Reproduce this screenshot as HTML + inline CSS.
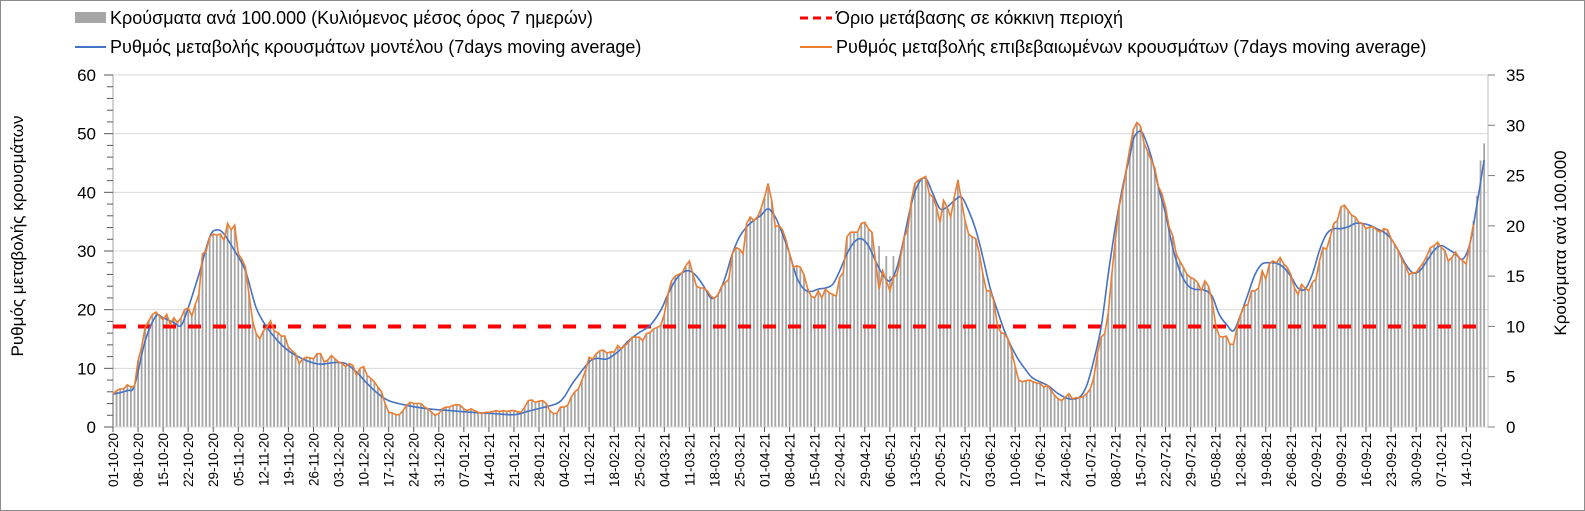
<!DOCTYPE html>
<html><head><meta charset="utf-8">
<style>
html,body{margin:0;padding:0;background:#fff;}
#wrap{position:relative;width:1585px;height:511px;overflow:hidden;}
svg text{font-family:"Liberation Sans",Arial,sans-serif;fill:#000;}
</style></head>
<body>
<div id="wrap">
<svg id="chart" width="1585" height="511" xmlns="http://www.w3.org/2000/svg">
<rect x="0.5" y="0.5" width="1584" height="510" fill="#fff" stroke="#8c8c8c"/>
<g id="grid"></g>
<g id="bars"></g>
<g id="axes"></g>
<line id="thresh" stroke="#ff0000" stroke-width="4" stroke-dasharray="13,12"/>
<path id="blue" fill="none" stroke="#4472c4" stroke-width="1.6"/>
<path id="orange" fill="none" stroke="#ed7d31" stroke-width="1.6"/>
<g>
 <g>
  <rect x="75" y="12" width="31" height="11" fill="#a6a6a6"/>
  <text x="110" y="24" font-size="18">Κρούσματα ανά 100.000 (Κυλιόμενος μέσος όρος 7 ημερών)</text>
 </g>
 <g>
  <line x1="800" y1="18" x2="832" y2="18" stroke="#ff0000" stroke-width="3" stroke-dasharray="8,5"/>
  <text x="836" y="24" font-size="18">Όριο μετάβασης σε κόκκινη περιοχή</text>
 </g>
 <g>
  <line x1="75" y1="47" x2="106" y2="47" stroke="#4472c4" stroke-width="2"/>
  <text x="110" y="53" font-size="18">Ρυθμός μεταβολής κρουσμάτων μοντέλου (7days moving average)</text>
 </g>
 <g>
  <line x1="800" y1="47" x2="832" y2="47" stroke="#ed7d31" stroke-width="2"/>
  <text x="836" y="53" font-size="18">Ρυθμός μεταβολής επιβεβαιωμένων κρουσμάτων (7days moving average)</text>
 </g>
</g>
<text font-size="17" text-anchor="middle" transform="translate(23,236) rotate(-90)">Ρυθμός μεταβολής κρουσμάτων</text>
<text font-size="17" text-anchor="middle" transform="translate(1566,243) rotate(-90)">Κρούσματα ανά 100.000</text>
</svg>
</div>
<script>
// ---- data ----
const startDate = [2020, 9, 1]; // 01-10-2020 (month 0-based)
const leftTicks = [0,10,20,30,40,50,60];
const rightTicks = [0,5,10,15,20,25,30,35];
const thresholdLeft = [17.14];
// bars: cases per 100k (right axis), daily from 01-10-20
const barVals = [
3.3,3.6,3.8,3.8,4.2,4.0,4.1, 6.6,7.9,9.9,10.6,11.2,11.4,11.0, 10.7,11.2,10.2,10.8,10.4,10.8,11.7,
11.8,11.0,12.2,13.2,17.2,17.5,18.9, 19.2,19.1,19.2,18.5,20.2,19.6,20.1, 17.2,16.7,15.9,13.2,10.6,9.3,8.8,
9.6,9.9,10.6,9.6,9.4,9.0,9.0, 7.9,7.6,7.3,6.3,6.8,6.9,6.9, 6.8,7.3,7.3,6.5,6.6,7.1,6.8,
6.5,6.3,6.0,6.3,6.1,5.1,5.8, 6.0,5.1,4.8,4.5,4.0,3.5,2.3, 1.5,1.4,1.2,1.2,1.6,2.2,2.4,
2.3,2.3,2.3,2.0,1.8,1.5,1.2, 1.3,1.8,2.0,2.0,2.2,2.2,2.2, 1.8,1.6,1.8,1.6,1.5,1.3,1.5,
1.5,1.5,1.6,1.5,1.6,1.5,1.6, 1.6,1.5,1.5,2.0,2.6,2.7,2.4, 2.6,2.6,2.3,1.6,1.3,1.3,2.0,
2.0,2.2,3.0,3.5,3.8,4.7,5.7, 6.9,6.8,7.3,7.6,7.6,7.3,7.5, 7.5,8.1,7.8,8.1,8.4,8.9,8.9,
8.9,8.6,9.3,9.4,9.7,9.9,10.1, 11.2,13.2,14.5,15.0,15.2,15.3,16.0, 16.5,15.2,14.0,13.8,13.8,13.5,13.0,
12.8,13.2,14.0,14.3,14.7,17.2,17.8, 17.7,17.2,20.2,20.9,20.5,20.9,21.7, 22.9,24.2,22.5,19.9,20.1,19.6,18.6,
17.2,15.9,16.0,15.9,15.2,13.8,13.0, 12.8,13.5,12.8,13.7,13.4,13.2,13.0, 14.9,15.3,18.9,19.4,19.4,19.4,20.2,
20.4,19.7,19.4,16.5,18.0,15.5,17.0, 15.0,17.0,15.2,16.9,18.9,19.6,22.5, 24.2,24.6,24.7,25.0,23.2,22.9,21.9,
20.4,22.5,21.9,20.9,22.9,24.6,22.5, 20.5,19.2,18.9,18.7,17.2,15.2,13.5, 13.5,12.5,10.2,9.4,9.3,8.8,7.6,
6.0,4.7,4.5,4.6,4.7,4.5,4.4, 4.3,4.0,4.1,3.7,3.2,2.8,2.6, 3.0,3.3,2.8,2.9,2.9,3.0,3.3,
3.8,5.0,7.3,8.9,9.3,11.3,15.2, 18.6,21.9,23.4,25.5,27.6,29.6,30.3, 29.9,28.2,27.4,26.5,25.7,23.9,23.2,
21.9,19.9,19.0,17.2,16.5,15.9,15.2, 14.9,14.7,14.3,13.5,14.5,14.0,12.5, 10.2,9.0,8.9,9.0,8.2,8.2,9.9,
11.2,12.0,12.2,13.5,13.5,13.8,15.5, 14.7,16.2,16.5,16.3,16.9,16.2,15.9, 15.2,13.8,13.2,14.2,13.8,13.5,14.3,
14.7,16.5,17.8,17.7,18.9,20.2,20.5, 21.9,22.0,21.5,21.1,20.9,20.4,20.2, 19.7,19.9,19.9,19.6,19.4,19.7,19.6,
18.7,18.2,17.6,16.7,16.0,15.2,15.3, 15.3,15.9,16.3,17.0,17.8,18.0,18.4, 17.8,17.6,16.5,16.9,17.4,16.9,16.5,
16.2,18.2,20.5,23.0,26.5,28.2
];
// orange: confirmed cases rate (left axis), daily
const orangeVals = [
5.6,6.2,6.5,6.5,7.2,6.8,7.0, 11.3,13.6,17,18.1,19.2,19.6,18.9, 18.3,19.2,17.5,18.6,17.8,18.6,20,
20.3,18.9,20.9,22.6,29.5,30,32.4, 32.9,32.7,32.9,31.8,34.7,33.6,34.4, 29.5,28.6,27.2,22.6,18.1,15.9,15,
16.4,17,18.1,16.4,16.1,15.5,15.5, 13.6,13,12.5,10.8,11.6,11.9,11.8, 11.6,12.5,12.5,11.1,11.4,12.2,11.6,
11.1,10.8,10.3,10.8,10.5,8.8,10, 10.3,8.8,8.3,7.7,6.8,6,4, 2.5,2.4,2.1,2.1,2.8,3.7,4.2,
4,4,4,3.4,3.1,2.5,2, 2.3,3.1,3.4,3.4,3.7,3.8,3.7, 3.1,2.8,3.1,2.8,2.5,2.3,2.5,
2.5,2.6,2.8,2.6,2.8,2.6,2.8, 2.8,2.6,2.5,3.4,4.5,4.6,4.2, 4.4,4.5,4,2.8,2.3,2.3,3.4,
3.4,3.7,5.1,6,6.5,8,9.7, 11.9,11.6,12.5,13,13.1,12.6,12.8, 12.8,13.9,13.3,13.9,14.4,15.3,15.3,
15.3,14.7,15.9,16.1,16.7,17,17.3, 19.2,22.6,24.9,25.7,26,26.3,27.5, 28.3,26,24,23.7,23.7,23.2,22.3,
21.9,22.6,24,24.6,25.2,29.5,30.6, 30.3,29.5,34.7,35.8,35.2,35.8,37.2, 39.2,41.5,38.6,34.1,34.4,33.6,31.9,
29.5,27.2,27.5,27.2,26,23.7,22.3, 22,23.2,22,23.5,22.9,22.6,22.3, 25.5,26.3,32.4,33.2,33.2,33.2,34.7,
34.9,33.8,33.2,28.3,23.5,26.6,24.9, 23.2,25.5,26,28.9,32.4,33.6,38.6, 41.5,42.1,42.4,42.7,39.8,39.2,37.5,
34.9,38.6,37.5,35.8,39.2,42.1,38.6, 35.2,32.9,32.4,32.1,29.5,26,23.2, 23.2,21.5,17.5,16.1,15.9,15,13,
10.3,8,7.7,7.9,8,7.7,7.5, 7.4,6.8,7.1,6.3,5.4,4.8,4.5, 5.1,5.7,4.8,5,5,5.2,5.7,
6.5,8.5,12.5,15.3,15.9,19.4,26, 31.9,37.5,40.1,43.8,47.3,50.7,51.9, 51.3,48.4,47,45.5,44.1,41,39.8,
37.5,34.1,32.6,29.5,28.3,27.2,26, 25.5,25.2,24.6,23.2,24.9,24,21.5, 17.5,15.5,15.3,15.5,14.1,14.1,17,
19.2,20.6,20.9,23.2,23.2,23.7,26.6, 25.2,27.8,28.3,28,28.9,27.8,27.2, 26,23.7,22.6,24.3,23.7,23.2,24.6,
25.2,28.3,30.6,30.3,32.4,34.7,35.2, 37.5,37.8,36.9,36.1,35.8,34.9,34.7, 33.8,34.1,34.1,33.6,33.2,33.8,33.6,
32.1,31.2,30.1,28.6,27.5,26,26.3, 26.3,27.2,28,29.2,30.6,30.9,31.5, 30.6,30.1,28.3,28.9,29.8,28.9,28.3,
27.8,31.2,34.5
];
// blue: model rate (left axis), sampled days
const blueDays = [0,4,6,9,12,14,17,19,21,24,27,29,31,34,37,40,43,46,49,52,55,58,62,65,68,71,74,77,82,88,94,100,106,112,116,120,124,126,128,130,
133,135,138,141,144,147,150,153,155,157,159,161,163,165,167,169,171,173,175,177,179,181,183,185,187,189,191,193,195,197,199,201,203,205,207,209,211,213,215,217,219,221,223,225,227,229,231,233,235,237,239,241,243,245,247,249,251,253,255,257,
261,264,267,270,272,274,276,278,280,282,284,285,286,287,288,290,292,294,296,298,300,302,305,307,309,311,313,315,317,319,321,323,325,327,329,331,333,335,337,339,341,343,345,347,349,351,353,355,357,359,361,363,365,367,369,371,373,375,377,379,381,383];
const blueVals = [5.6,6.2,7.1,14.7,18.9,18.6,17.8,17.3,20.3,26,32.4,33.6,32.9,30,26.6,20.3,17,14.7,13,11.9,11.1,10.7,11,10.8,9.4,7.4,5.7,4.5,3.7,3.1,2.8,2.5,2.3,2.1,2.7,3.3,4.0,5.1,7.1,8.8,
11.1,11.7,11.6,12.8,14.7,16.1,17.3,19.9,22.6,24.9,26.3,26.6,25.7,24,22,22.6,25.5,29.5,32.4,34.1,35.2,36.1,37.2,35.8,32.9,29.5,25.5,23.5,23.1,23.5,23.7,24.3,26.6,29.5,31.5,32.1,30.9,28.3,26,24.9,27.2,32.4,38.0,41.5,42.4,39.8,37.2,37.5,38.6,39.2,36.9,33.6,28.9,23.7,19.9,16.4,13.6,11.4,9.7,8.3,
7.1,5.7,4.8,5.1,7.1,11.4,17,26,34.1,40.9,46.1,49,50.1,50.4,49.6,46.1,40.9,36.4,30.6,26.6,24.3,23.5,23.3,22.3,19.2,17.5,16.4,19.2,22.6,26,27.8,28,27.9,27.2,25.7,23.7,23.5,26,30.1,32.9,33.8,33.8,34.1,34.7,34.7,34.4,33.8,33.2,32.1,30.1,27.8,26.3,26.6,28.3,30.1,30.9,30.3,29.5,28.6,31.2,38,45.5];

// ---- scales ----
const X0 = 113, DX = 3.58, Y0 = 427, YT = 75;
const xDay = d => X0 + d * DX;
const yL = v => Y0 - v * (Y0 - YT) / 60;
const yR = v => Y0 - v * (Y0 - YT) / 35;
const NS = 'http://www.w3.org/2000/svg';
function mk(tag, parent) { const e = document.createElementNS(NS, tag); parent.appendChild(e); return e; }

const grid = document.getElementById('grid');
leftTicks.forEach(v => {
  if (v === 0) return;
  const l = mk('line', grid);
  
  
  l.setAttribute('x1', X0); l.setAttribute('x2', 1488);
  l.setAttribute('y1', yL(v)); l.setAttribute('y2', yL(v));
  l.setAttribute('stroke', '#d9d9d9'); l.setAttribute('stroke-width', '1');
});

const barsG = document.getElementById('bars');
barVals.forEach((v, i) => {
  const r = mk('rect', barsG);
  
  
  r.setAttribute('x', xDay(i) - 0.9); r.setAttribute('width', 1.8);
  r.setAttribute('y', yR(v)); r.setAttribute('height', Y0 - yR(v));
  r.setAttribute('fill', '#a6a6a6');
});

const axes = document.getElementById('axes');
function line(x1, y1, x2, y2, c, name) {
  const l = mk('line', axes);
  
  
  l.setAttribute('x1', x1); l.setAttribute('y1', y1); l.setAttribute('x2', x2); l.setAttribute('y2', y2);
  l.setAttribute('stroke', c); l.setAttribute('stroke-width', '1');
}
line(X0, YT, X0, Y0, '#a6a6a6', 'left-axis-line');
line(1488, YT, 1488, Y0, '#bfbfbf', 'right-axis-line');
line(X0, Y0, 1488, Y0, '#d9d9d9', 'x-axis-line');
for (let v = 0; v <= 60; v += 2) {
  const major = v % 10 === 0;
  line(major ? 104 : 107, yL(v), X0, yL(v), '#595959', 'left-axis-tick');
}
leftTicks.forEach(v => {
  const t = mk('text', axes);
  
  
  t.setAttribute('x', 96); t.setAttribute('y', yL(v) + 6);
  t.setAttribute('text-anchor', 'end'); t.setAttribute('font-size', '17');
  t.textContent = v;
});
rightTicks.forEach(v => {
  line(1488, yR(v), 1495, yR(v), '#7f7f7f', 'right-axis-tick');
  const t = mk('text', axes);
  
  
  t.setAttribute('x', 1506); t.setAttribute('y', yR(v) + 6);
  t.setAttribute('font-size', '17');
  t.textContent = v;
});
const pad = n => (n < 10 ? '0' : '') + n;
for (let d = 0; d < barVals.length; d += 7) {
  const dt = new Date(startDate[0], startDate[1], startDate[2] + d);
  const x = xDay(d);
  line(x, Y0, x, Y0 + 5, '#595959', 'x-axis-tick');
  const t = mk('text', axes);
  
  
  t.setAttribute('font-size', '13.5');
  t.setAttribute('text-anchor', 'end');
  t.setAttribute('transform', `translate(${x + 5},${Y0 + 6}) rotate(-90)`);
  t.textContent = pad(dt.getDate()) + '-' + pad(dt.getMonth() + 1) + '-' + pad(dt.getFullYear() % 100);
}

const th = document.getElementById('thresh');
th.setAttribute('x1', X0); th.setAttribute('x2', 1478);
th.setAttribute('y1', yL(thresholdLeft[0])); th.setAttribute('y2', yL(thresholdLeft[0]));

document.getElementById('orange').setAttribute('d',
  orangeVals.map((v, i) => (i ? 'L' : 'M') + xDay(i).toFixed(1) + ',' + yL(v).toFixed(1)).join(''));

// smooth blue via Catmull-Rom
const bp = blueDays.map((d, i) => [xDay(d), yL(blueVals[i])]);
let bd = 'M' + bp[0][0] + ',' + bp[0][1];
for (let i = 0; i < bp.length - 1; i++) {
  const p0 = bp[Math.max(0, i - 1)], p1 = bp[i], p2 = bp[i + 1], p3 = bp[Math.min(bp.length - 1, i + 2)];
  const c1 = [p1[0] + (p2[0] - p0[0]) / 6, p1[1] + (p2[1] - p0[1]) / 6];
  const c2 = [p2[0] - (p3[0] - p1[0]) / 6, p2[1] - (p3[1] - p1[1]) / 6];
  bd += 'C' + c1[0].toFixed(1) + ',' + c1[1].toFixed(1) + ' ' + c2[0].toFixed(1) + ',' + c2[1].toFixed(1) + ' ' + p2[0].toFixed(1) + ',' + p2[1].toFixed(1);
}
document.getElementById('blue').setAttribute('d', bd);
</script>
</body></html>
